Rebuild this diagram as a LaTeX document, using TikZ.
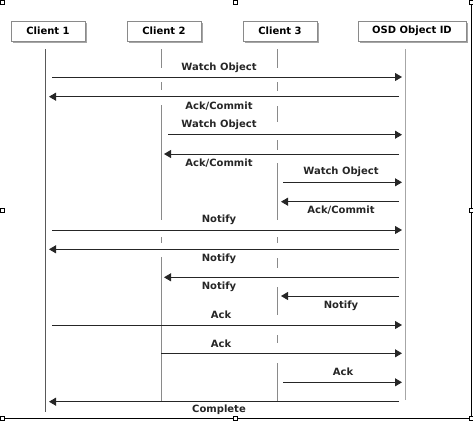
\documentclass[tikz,border=0pt]{standalone}
\usepackage{fontspec}
\setmainfont{DejaVu Sans}
\usetikzlibrary{arrows.meta,shadows}
\definecolor{lifec}{HTML}{8A8A8A}
\definecolor{msgc}{HTML}{262626}
\begin{document}
\begin{tikzpicture}[x=1pt,y=-1pt,
  actor/.style={draw=lifec, fill=white, line width=0.8pt, minimum height=20pt, inner sep=0pt,
    font=\fontsize{10}{12}\selectfont\bfseries,
    drop shadow={shadow xshift=2pt, shadow yshift=-2pt, fill=black!35, opacity=1}},
  life/.style={draw=lifec, line width=1pt},
  msg/.style={draw=msgc, line width=0.9pt, -{Triangle[length=7pt,width=8pt]}},
  lbl/.style={inner sep=0pt, font=\fontsize{10}{12}\selectfont\bfseries, text=black!85},
  handle/.style={draw=black, fill=white, line width=0.6pt, minimum size=4pt, inner sep=0pt}]
\useasboundingbox (0,0) rectangle (473,421);
% frame of the screenshot
\node[handle] (h1) at (2,2) {};
\node[handle] (h2) at (235,2) {};
\node[handle] (h3) at (471,2) {};
\node[handle] (h4) at (2,210) {};
\node[handle] (h5) at (471,210) {};
\node[handle] (h6) at (2,418.5) {};
\node[handle] (h7) at (235,418.5) {};
\node[handle] (h8) at (471,418.5) {};
\draw[line width=1pt] (h3) -- (h5) -- (h8) -- (h7) -- (h6);
% actors
\node[actor, minimum width=74pt] (c1) at (48,31) {Client 1};
\node[actor, minimum width=74pt] (c2) at (164,31) {Client 2};
\node[actor, minimum width=74pt] (c3) at (280,31) {Client 3};
\node[actor, minimum width=108pt] (osd) at (412,31) {OSD Object ID};
% lifelines
\draw[life, draw=black!65] (45,49) -- (45,412);
\draw[life, draw=black!35] (405.7,49) -- (405.7,400);
\foreach \a/\b in {49/68, 82/90, 105/220, 237/243, 257/402}
  \draw[life] (161,\a) -- (161,\b);
\foreach \a/\b in {49/68, 82/91, 106/122, 140/150, 163/220, 237/243, 258/268, 287/315, 335/343, 363/402}
  \draw[life] (277,\a) -- (277,\b);
% endpoints
\coordinate (L1) at (52,0);
\coordinate (T1) at (49,0);
\coordinate (L2) at (168,0);
\coordinate (T2) at (164,0);
\coordinate (S2) at (161,0);
\coordinate (L3) at (283,0);
\coordinate (T3) at (281,0);
\coordinate (RO) at (402,0);
\coordinate (SO) at (399,0);
% messages
\draw[msg] (L1 |- 0,77) -- (RO |- 0,77);
\node[lbl] (t1) at (219,68) {Watch Object};
\draw[msg] (SO |- 0,96.7) -- (T1 |- 0,96.7);
\node[lbl] (t2) at (219,106) {Ack/Commit};
\draw[msg] (L2 |- 0,134.7) -- (RO |- 0,134.7);
\node[lbl] (t3) at (219,125) {Watch Object};
\draw[msg] (SO |- 0,154) -- (T2 |- 0,154);
\node[lbl] (t4) at (219,163) {Ack/Commit};
\draw[msg] (L3 |- 0,182.3) -- (RO |- 0,182.3);
\node[lbl] (t5) at (341,172) {Watch Object};
\draw[msg] (SO |- 0,201.7) -- (T3 |- 0,201.7);
\node[lbl] (t6) at (341,210) {Ack/Commit};
\draw[msg] (L1 |- 0,230) -- (RO |- 0,230);
\node[lbl] (t7) at (219,220) {Notify};
\draw[msg] (SO |- 0,249.3) -- (T1 |- 0,249.3);
\node[lbl] (t8) at (219,258.5) {Notify};
\draw[msg] (SO |- 0,277.3) -- (T2 |- 0,277.3);
\node[lbl] (t9) at (219,287) {Notify};
\draw[msg] (SO |- 0,296) -- (T3 |- 0,296);
\node[lbl] (t10) at (341,306) {Notify};
\draw[msg] (L1 |- 0,325) -- (RO |- 0,325);
\node[lbl] (t11) at (221,315) {Ack};
\draw[msg] (S2 |- 0,353.3) -- (RO |- 0,353.3);
\node[lbl] (t12) at (221,343.5) {Ack};
\draw[msg] (L3 |- 0,382.3) -- (RO |- 0,382.3);
\node[lbl] (t13) at (343,372) {Ack};
\draw[msg] (SO |- 0,401.7) -- (T1 |- 0,401.7);
\node[lbl] (t14) at (219,410) {Complete};
\end{tikzpicture}
\end{document}
